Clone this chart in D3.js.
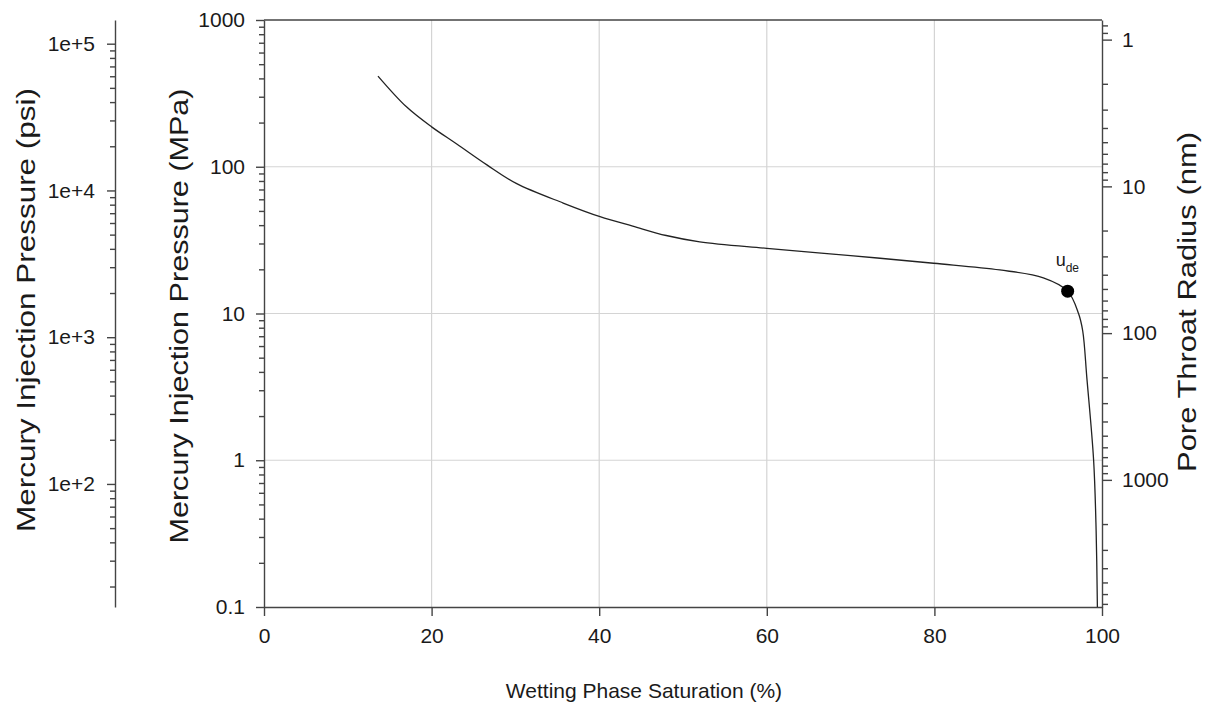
<!DOCTYPE html>
<html>
<head>
<meta charset="utf-8">
<script src="https://cdn.jsdelivr.net/npm/d3@7"></script>
<style>
  body { margin: 0; background: #fff; }
  svg { display: block; font-family: "Liberation Sans", Arial, sans-serif; }
  .axis path, .axis line { stroke: #444; stroke-width: 1.4; }
  .axis text { fill: #1a1a1a; font-size: 21px; }
  .grid line { stroke: #d4d4d4; stroke-width: 1.2; }
  .title { fill: #1a1a1a; }
</style>
</head>
<body>
<div id="main"></div>
<script>
// wetting phase saturation (%) vs mercury injection pressure (MPa)
const saturation = [13.6, 17, 20, 23, 26.6, 30.1, 35.7, 40.1, 44, 48, 52, 60, 70, 79.9, 87.8, 93, 95.9, 97.2, 97.7, 98.2, 99.0, 99.3, 99.45];
const pressure   = [415, 256, 187, 143, 103, 77, 56.6, 45.7, 39.4, 34, 30.8, 27.8, 24.8, 22, 19.8, 17.5, 14.2, 10, 7.6, 3.6, 1.0, 0.33, 0.1];

// displacement point u_de
const udeSat = 95.9;
const udePressure = 14.2;

const xTicks = [0, 20, 40, 60, 80, 100];
const mpaTicks = [0.1, 1, 10, 100, 1000];
const mpaLabels = ["0.1", "1", "10", "100", "1000"];
const psiTicks = [100, 1000, 10000, 100000];
const psiLabels = ["1e+2", "1e+3", "1e+4", "1e+5"];
const nmTicks = [1, 10, 100, 1000];
const nmLabels = ["1", "10", "100", "1000"];

const MPA_TO_PSI = 145.038;
const WASHBURN = 735; // r(nm) = 735 / P(MPa)

let width = 1205, height = 709;
let plot = {left: 264, right: 1102, top: 20, bottom: 607};

let x = d3.scaleLinear().domain([0, 100]).range([plot.left, plot.right]);
let y = d3.scaleLog().domain([0.1, 1000]).range([plot.bottom, plot.top]);
let psi = d3.scaleLog().domain([0.1 * MPA_TO_PSI, 1000 * MPA_TO_PSI]).range([plot.bottom, plot.top]);
let nm = d3.scaleLog().domain([WASHBURN / 0.1, WASHBURN / 1000]).range([plot.bottom, plot.top]);

let svg = d3.select("#main")
  .append("svg")
    .attr("width", width)
    .attr("height", height);

// grid
let grid = svg.append("g").attr("class", "grid");
grid.selectAll(".gx")
  .data(xTicks.slice(1, -1))
  .enter().append("line")
    .attr("x1", d => x(d)).attr("x2", d => x(d))
    .attr("y1", plot.top).attr("y2", plot.bottom);
grid.selectAll(".gy")
  .data(mpaTicks.slice(1, -1))
  .enter().append("line")
    .attr("x1", plot.left).attr("x2", plot.right)
    .attr("y1", d => y(d)).attr("y2", d => y(d));

// minor ticks come from the log scales themselves
const minor = (scale, majors) => scale.ticks().filter(t => !majors.some(m => Math.abs(m - t) / m < 1e-6));

const fmt = (vals, labels) => (d => labels[vals.indexOf(d)]);

// MPa axis (left)
svg.append("g").attr("class", "axis")
  .attr("transform", `translate(${plot.left},0)`)
  .call(d3.axisLeft(y).tickValues(minor(y, mpaTicks)).tickSize(5).tickFormat(""))
  .call(g => g.select(".domain").remove());
svg.append("g").attr("class", "axis")
  .attr("transform", `translate(${plot.left},0)`)
  .call(d3.axisLeft(y).tickValues(mpaTicks).tickSize(8).tickSizeOuter(0).tickPadding(11).tickFormat(fmt(mpaTicks, mpaLabels)));

// psi axis (far left)
svg.append("g").attr("class", "axis")
  .attr("transform", "translate(115,0)")
  .call(d3.axisLeft(psi).tickValues(minor(psi, psiTicks)).tickSize(5).tickFormat(""))
  .call(g => g.select(".domain").remove());
svg.append("g").attr("class", "axis")
  .attr("transform", "translate(115,0)")
  .call(d3.axisLeft(psi).tickValues(psiTicks).tickSize(8).tickSizeOuter(0).tickPadding(12).tickFormat(fmt(psiTicks, psiLabels)));

// pore throat radius axis (right)
svg.append("g").attr("class", "axis")
  .attr("transform", `translate(${plot.right},0)`)
  .call(d3.axisRight(nm).tickValues(minor(nm, nmTicks)).tickSize(6).tickFormat(""))
  .call(g => g.select(".domain").remove());
svg.append("g").attr("class", "axis")
  .attr("transform", `translate(${plot.right},0)`)
  .call(d3.axisRight(nm).tickValues(nmTicks).tickSize(10).tickSizeOuter(0).tickPadding(10).tickFormat(fmt(nmTicks, nmLabels)));

// x axis
svg.append("g").attr("class", "axis")
  .attr("transform", `translate(0,${plot.bottom})`)
  .call(d3.axisBottom(x).tickValues(xTicks).tickSize(9).tickSizeOuter(0).tickPadding(12));

// top frame
svg.append("line")
  .attr("x1", plot.left).attr("x2", plot.right)
  .attr("y1", plot.top).attr("y2", plot.top)
  .style("stroke", "#444").style("stroke-width", 1.4);

// curve
let pts = saturation.map((s, i) => [s, pressure[i]]);
svg.append("path")
  .datum(pts)
  .attr("d", d3.line().x(d => x(d[0])).y(d => y(d[1])).curve(d3.curveCatmullRom.alpha(0.5)))
  .style("fill", "none")
  .style("stroke", "#222")
  .style("stroke-width", 1.3);

svg.append("circle")
  .attr("cx", x(udeSat)).attr("cy", y(udePressure))
  .attr("r", 6.5)
  .style("fill", "#000");

let lab = svg.append("text")
  .attr("class", "title")
  .attr("x", x(udeSat) - 12)
  .attr("y", y(udePressure) - 25)
  .style("font-size", "18px");
lab.append("tspan").text("u");
lab.append("tspan").attr("dy", 6).style("font-size", "12px").text("de");

// titles
svg.append("text").attr("class", "title")
  .attr("x", 644).attr("y", 698)
  .attr("text-anchor", "middle")
  .style("font-size", "21px")
  .text("Wetting Phase Saturation (%)");

const vTitle = (cx, cy, len, txt) => svg.append("text").attr("class", "title")
  .attr("transform", `translate(${cx},${cy}) rotate(-90)`)
  .attr("text-anchor", "middle")
  .attr("textLength", len)
  .attr("lengthAdjust", "spacingAndGlyphs")
  .style("font-size", "26px")
  .text(txt);

vTitle(188, 316, 455, "Mercury Injection Pressure (MPa)");
vTitle(35, 310, 444, "Mercury Injection Pressure (psi)");
vTitle(1196, 302, 340, "Pore Throat Radius (nm)");
</script>
</body>
</html>
